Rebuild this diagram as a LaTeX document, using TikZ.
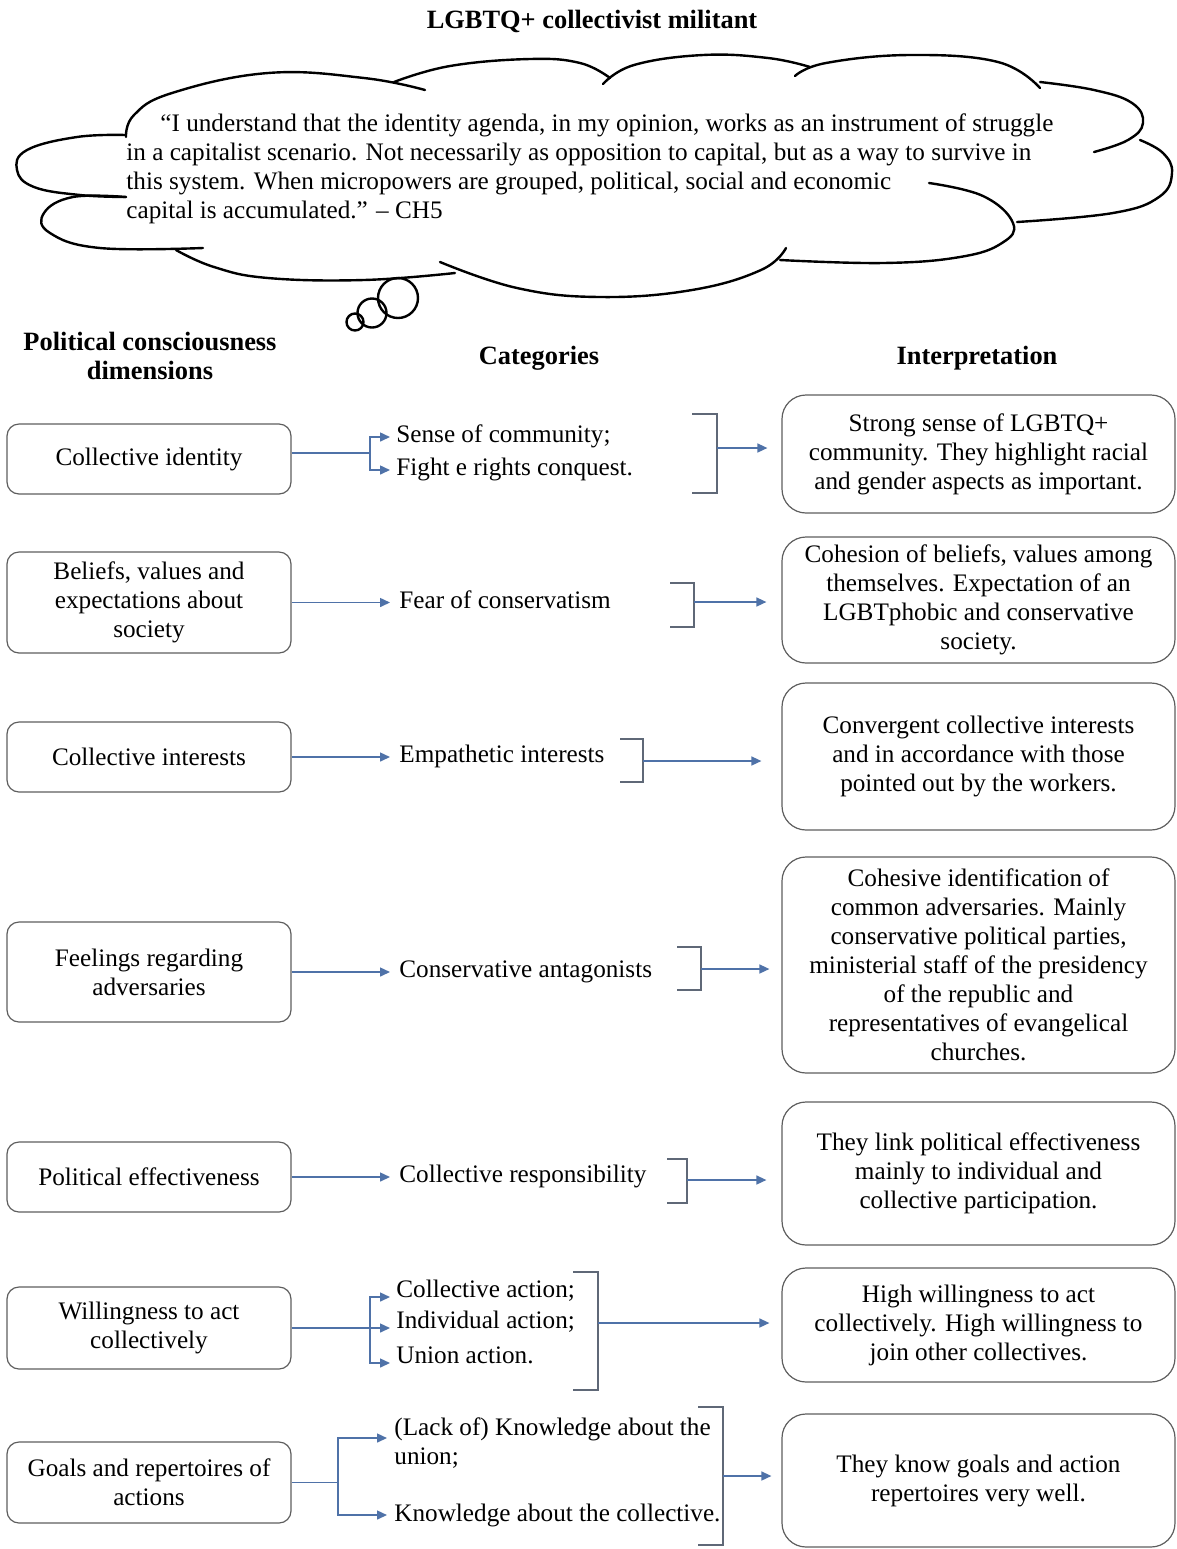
\documentclass[tikz,border=0pt]{standalone}
\usepackage{fontspec}
\setmainfont{Liberation Serif}
\usetikzlibrary{arrows.meta}
\definecolor{boxgray}{HTML}{5E5E5E}
\definecolor{linkblue}{HTML}{4F72A8}
\definecolor{brkgray}{HTML}{5F6877}

\begin{document}
\begin{tikzpicture}[x=0.5pt,y=-0.5pt,
  every node/.style={font=\fontsize{12.6}{14.5}\selectfont},
  lbox/.style={draw=boxgray, line width=0.6pt, rounded corners=6pt, minimum width=142pt, inner sep=0pt, align=center},
  rbox/.style={draw=boxgray, line width=0.6pt, rounded corners=12pt, minimum width=196.5pt, inner sep=0pt, align=center},
  cat/.style={anchor=west, inner xsep=3pt, inner ysep=0pt, text height=8pt, text depth=2.5pt},
  catwide/.style={cat, inner xsep=4.5pt},
  catlow/.style={cat, text depth=8pt},
  cattwo/.style={anchor=west, inner xsep=3.5pt, inner ysep=0pt, align=left},
  hdr/.style={font=\bfseries\fontsize{13.2}{14.5}\selectfont, align=center},
  quote/.style={anchor=base west, inner sep=0pt},
  link/.style={draw=linkblue, line width=0.75pt},
  arr/.style={link, -{Triangle[length=5pt,width=4.5pt]}},
  brk/.style={draw=brkgray, line width=0.7pt},
  cloud/.style={draw=black, line width=1.2pt, line cap=round},
]
\useasboundingbox (0,0) rectangle (1177,1549);

% title
\node[hdr] (title) at (592,21) {LGBTQ+ collectivist militant};

% thought cloud, one lobe at a time
\draw[cloud] plot[smooth, tension=0.7] coordinates {(126,137) (134,115) (172,93) (268,73) (364,78) (425,90)};
\draw[cloud] plot[smooth, tension=0.7] coordinates {(394,82) (450,66) (530,59) (580,63) (610,78)};
\draw[cloud] plot[smooth, tension=0.7] coordinates {(603,84) (634,65) (703,55) (768,58) (810,67)};
\draw[cloud] plot[smooth, tension=0.7] coordinates {(795,76) (826,63) (910,55) (998,62) (1040,88)};
\draw[cloud] plot[smooth, tension=0.7] coordinates {(1040,82) (1094,90) (1132,103) (1143,123) (1128,140) (1094,152)};
\draw[cloud] plot[smooth, tension=0.7] coordinates {(1140,140) (1163,153) (1172,173) (1159,197) (1113,213) (1017,222)};
\draw[cloud] plot[smooth, tension=0.7] coordinates {(929,183) (983,196) (1013,223) (1002,243) (960,257) (883,263) (780,260)};
\draw[cloud] plot[smooth, tension=0.7] coordinates {(786,248) (761,270) (692,290) (600,297) (517,288) (440,262)};
\draw[cloud] plot[smooth, tension=0.7] coordinates {(176,250) (214,267) (268,278) (364,280) (455,273)};
\draw[cloud] plot[smooth, tension=0.7] coordinates {(126,197) (73,197) (44,213) (50,233) (100,248) (203,248)};
\draw[cloud] plot[smooth, tension=0.7] coordinates {(126,135) (77,137) (27,150) (17,170) (34,187) (80,195) (126,197)};
\draw[cloud] (398,298) circle (20);
\draw[cloud] (372,313) circle (14.5);
\draw[cloud] (355,322) circle (8.5);

% quotation
\node[quote] (q1) at (160,131) {“I understand that the identity agenda, in my opinion, works as an instrument of struggle};
\node[quote] (q2) at (126,160) {in a capitalist scenario. Not necessarily as opposition to capital, but as a way to survive in};
\node[quote] (q3) at (126,189) {this system. When micropowers are grouped, political, social and economic};
\node[quote] (q4) at (126,218) {capital is accumulated.” – CH5};

% column headers
\node[hdr] (h1) at (150,356) {Political consciousness\\dimensions};
\node[hdr] (h2) at (539,358) {Categories};
\node[hdr] (h3) at (977,358) {Interpretation};

% dimensions
\node[lbox, minimum height=35pt]   (l1) at (149,459)    {Collective identity};
\node[lbox, minimum height=50.5pt] (l2) at (149,602.5)  {Beliefs, values and\\expectations about\\society};
\node[lbox, minimum height=35pt]   (l3) at (149,757)    {Collective interests};
\node[lbox, minimum height=50pt]   (l4) at (149,972)    {Feelings regarding\\adversaries};
\node[lbox, minimum height=35pt]   (l5) at (149,1177)   {Political effectiveness};
\node[lbox, minimum height=41pt]   (l6) at (149,1328)   {Willingness to act\\collectively};
\node[lbox, minimum height=40.5pt] (l7) at (149,1482.5) {Goals and repertoires of\\actions};

% interpretations
\node[rbox, minimum height=59pt]   (r1) at (978.5,454)    {Strong sense of LGBTQ+\\community. They highlight racial\\and gender aspects as important.};
\node[rbox, minimum height=63pt]   (r2) at (978.5,600)    {Cohesion of beliefs, values among\\themselves. Expectation of an\\LGBTphobic and conservative\\society.};
\node[rbox, minimum height=73.5pt] (r3) at (978.5,756.5)  {Convergent collective interests\\and in accordance with those\\pointed out by the workers.};
\node[rbox, minimum height=108pt]  (r4) at (978.5,965)    {Cohesive identification of\\common adversaries. Mainly\\conservative political parties,\\ministerial staff of the presidency\\of the republic and\\representatives of evangelical\\churches.};
\node[rbox, minimum height=71.5pt] (r5) at (978.5,1173.5) {They link political effectiveness\\mainly to individual and\\collective participation.};
\node[rbox, minimum height=57pt]   (r6) at (978.5,1325)   {High willingness to act\\collectively. High willingness to\\join other collectives.};
\node[rbox, minimum height=66.5pt] (r7) at (978.5,1480.5) {They know goals and action\\repertoires very well.};

% categories
\node[cat] (c1a) at (390,437) {Sense of community;};
\node[cat] (c1b) at (390,470) {Fight e rights conquest.};
\node[catwide] (c2) at (390,602.5) {Fear of conservatism};
\node[catwide] (c3) at (390,757) {Empathetic interests};
\node[catwide] (c4) at (390,972) {Conservative antagonists};
\node[catwide] (c5) at (390,1177) {Collective responsibility};
\node[catlow] (c6a) at (390,1297) {Collective action;};
\node[catlow] (c6b) at (390,1328) {Individual action;};
\node[catlow] (c6c) at (390,1363) {Union action.};
\node[cattwo] (c7a) at (387,1443) {(Lack of) Knowledge about the\\union;};
\node[cattwo] (c7b) at (387,1515) {Knowledge about the collective.};

% branch points
\coordinate (j1) at (370,453);
\coordinate (j6) at (370,1328);
\coordinate (j7) at (338,1482.5);

% dimension -> category links
\draw[link] (l1.east |- j1) -- (j1);
\draw[arr] (j1) |- (c1a.west);
\draw[arr] (j1) |- (c1b.west);
\draw[arr] (l2.east) -- (c2.west);
\draw[arr] (l3.east) -- (c3.west);
\draw[arr] (l4.east) -- (c4.west);
\draw[arr] (l5.east) -- (c5.west);
\draw[link] (l6.east) -- (j6);
\draw[arr] (j6) |- (c6a.west);
\draw[arr] (j6) -- (c6b.west);
\draw[arr] (j6) |- (c6c.west);
\draw[link] (l7.east) -- (j7);
\draw[arr] (j7) |- ([yshift=2.5pt]c7a.west);
\draw[arr] (j7) |- (c7b.west);

% brackets grouping the categories
\coordinate (k1t) at (717,414);  \coordinate (k1b) at (717,493);  \coordinate (k1m) at (717,448);
\coordinate (k2t) at (694,583);  \coordinate (k2b) at (694,627);  \coordinate (k2m) at (694,602);
\coordinate (k3t) at (643,739);  \coordinate (k3b) at (643,782);  \coordinate (k3m) at (643,761);
\coordinate (k4t) at (701,947);  \coordinate (k4b) at (701,990);  \coordinate (k4m) at (701,969);
\coordinate (k5t) at (687,1159); \coordinate (k5b) at (687,1203); \coordinate (k5m) at (687,1180);
\coordinate (k6t) at (598,1272); \coordinate (k6b) at (598,1390); \coordinate (k6m) at (598,1323);
\coordinate (k7t) at (723,1407); \coordinate (k7b) at (723,1545); \coordinate (k7m) at (723,1476);

\draw[brk] (k1t) ++(-25,0) -- (k1t) -- (k1b) -- ++(-25,0);
\draw[brk] (k2t) ++(-24,0) -- (k2t) -- (k2b) -- ++(-24,0);
\draw[brk] (k3t) ++(-23,0) -- (k3t) -- (k3b) -- ++(-23,0);
\draw[brk] (k4t) ++(-24,0) -- (k4t) -- (k4b) -- ++(-24,0);
\draw[brk] (k5t) ++(-20,0) -- (k5t) -- (k5b) -- ++(-20,0);
\draw[brk] (k6t) ++(-25,0) -- (k6t) -- (k6b) -- ++(-25,0);
\draw[brk] (k7t) ++(-25,0) -- (k7t) -- (k7b) -- ++(-25,0);

% category -> interpretation links
\draw[arr, shorten >=7pt]   (k1m) -- (k1m -| r1.west);
\draw[arr, shorten >=7.5pt] (k2m) -- (k2m -| r2.west);
\draw[arr, shorten >=10pt]  (k3m) -- (k3m -| r3.west);
\draw[arr, shorten >=6pt]   (k4m) -- (k4m -| r4.west);
\draw[arr, shorten >=7.5pt] (k5m) -- (k5m -| r5.west);
\draw[arr, shorten >=6pt]   (k6m) -- (k6m -| r6.west);
\draw[arr, shorten >=5pt]   (k7m) -- (k7m -| r7.west);

\end{tikzpicture}
\end{document}
